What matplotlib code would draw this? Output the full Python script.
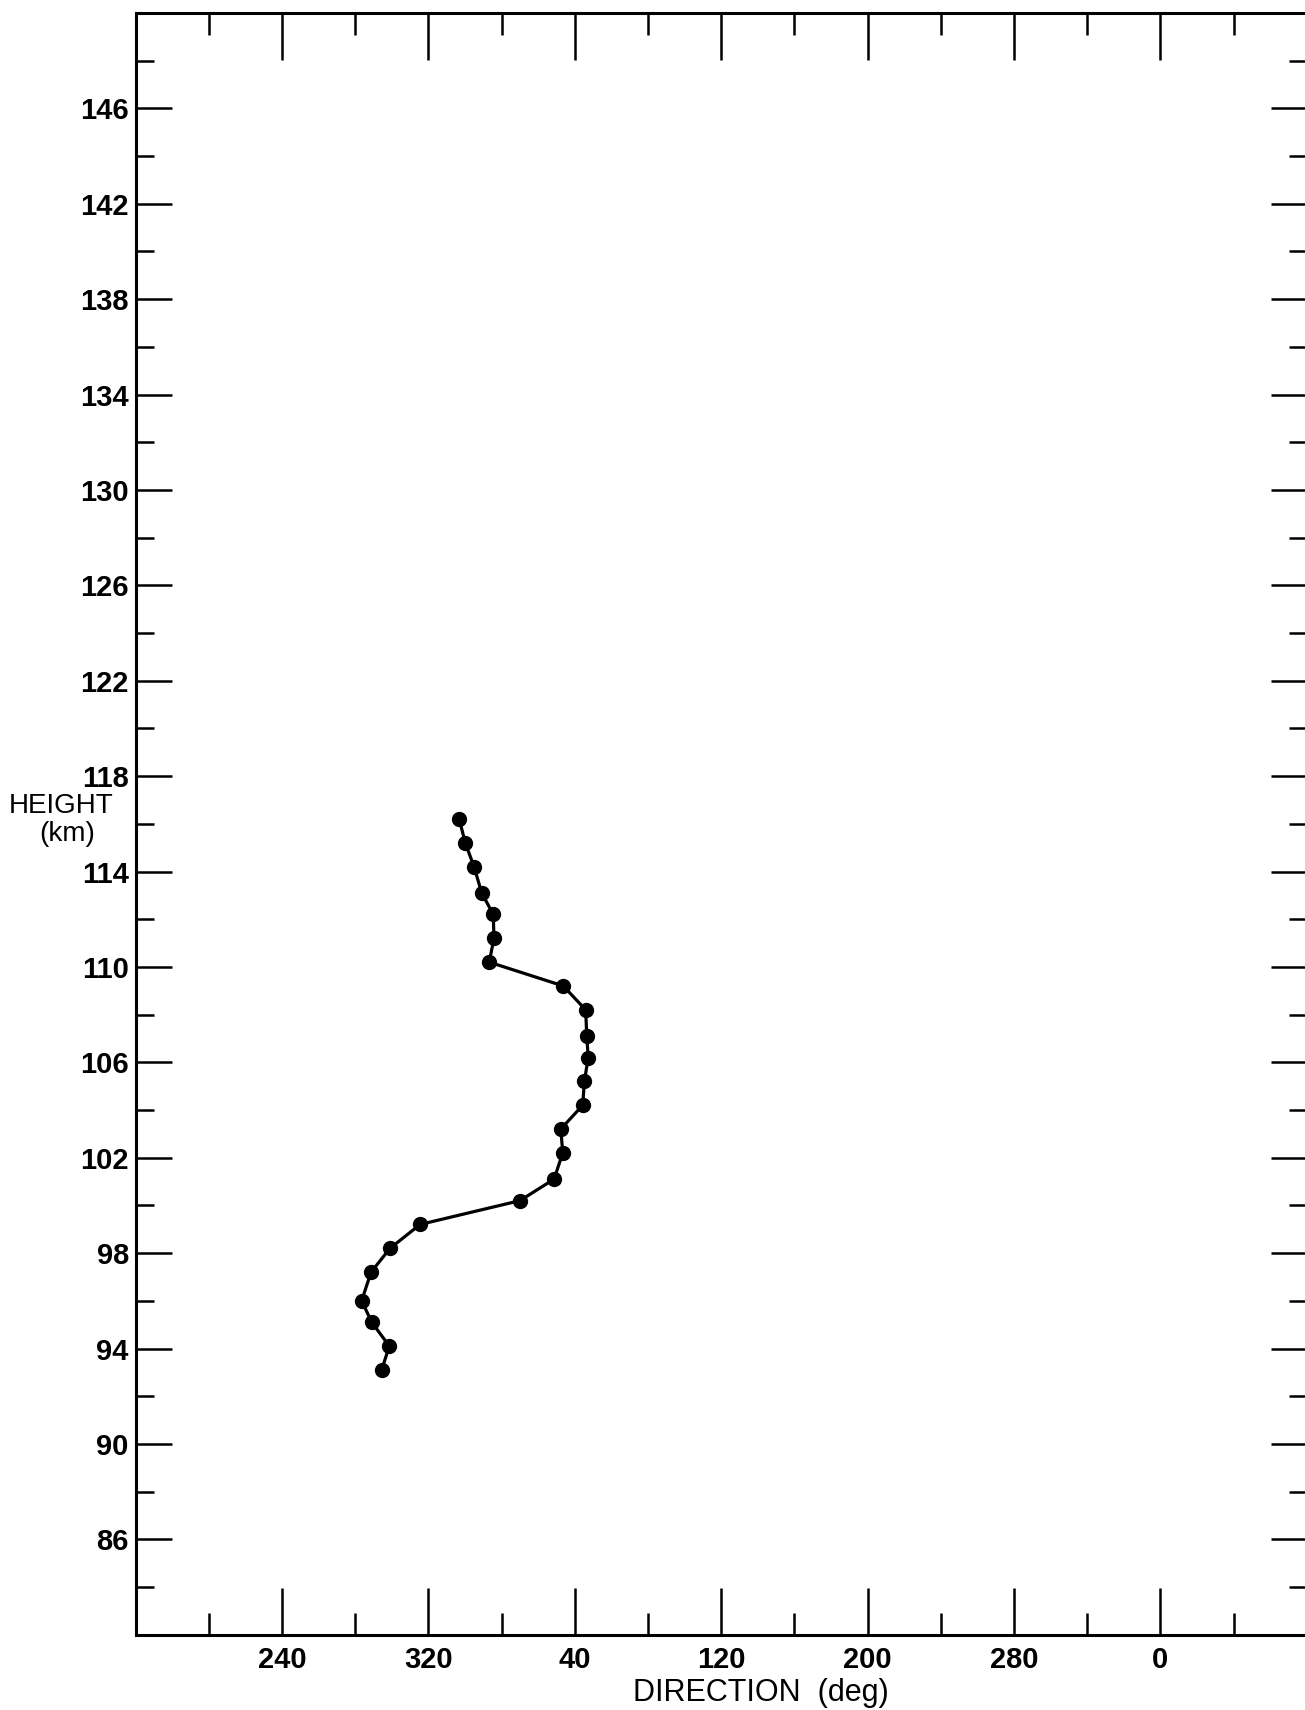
import numpy as np
import matplotlib
matplotlib.use("Agg")
import matplotlib.pyplot as plt

# ---- data ----
height_km = [116.2, 115.2, 114.2, 113.1, 112.2, 111.2, 110.2, 109.2, 108.2, 107.1,
             106.2, 105.2, 104.2, 103.2, 102.2, 101.1, 100.2, 99.2, 98.2, 97.2,
             96.0, 95.1, 94.1, 93.1]
direction_deg = [336.8, 340.1, 344.9, 349.1, 355.4, 355.8, 353.2, 33.7, 45.9, 46.5,
                 47.3, 45.2, 44.3, 32.3, 33.4, 28.6, 10.0, 315.4, 299.0, 288.6,
                 283.5, 289.0, 298.6, 294.4]

x_tick_pos = [240, 320, 400, 480, 560, 640, 720]          # unwrapped degrees
x_tick_labels = ["240", "320", "40", "120", "200", "280", "0"]
x_minor_pos = [200, 280, 360, 440, 520, 600, 680, 760]
y_tick_pos = list(range(86, 147, 4))
y_minor_pos = list(range(84, 149, 4))

# unwrap the direction onto the continuous axis (160 .. 800)
dir_plot = [d if d >= 160 else d + 360 for d in direction_deg]

W, H = 1305, 1710
fig = plt.figure(figsize=(W / 100, H / 100), dpi=100)
ax = fig.add_axes([135.7 / W, 1 - 1634.7 / H, (1306.8 - 135.7) / W, (1634.7 - 12.9) / H])

ax.plot(dir_plot, height_km, color="black", lw=2.3, marker="o", ms=10,
        mfc="black", mec="black", solid_joinstyle="round")

ax.set_xlim(160, 800)
ax.set_ylim(82, 150)

for s in ax.spines.values():
    s.set_linewidth(2.2)
    s.set_color("black")

tick_font = dict(family=["Liberation Sans", "DejaVu Sans"], weight="bold", size=21)

ax.set_xticks(x_tick_pos)
ax.set_xticklabels(x_tick_labels, fontdict=tick_font)
ax.set_xticks(x_minor_pos, minor=True)
ax.set_yticks(y_tick_pos)
ax.set_yticklabels([str(v) for v in y_tick_pos], fontdict=tick_font)
ax.set_yticks(y_minor_pos, minor=True)

ax.tick_params(axis="x", which="major", direction="in", length=34, width=1.8,
               top=True, bottom=True, pad=8)
ax.tick_params(axis="x", which="minor", direction="in", length=16, width=1.8,
               top=True, bottom=True)
ax.tick_params(axis="y", which="major", direction="in", length=26, width=1.8,
               left=True, right=True, pad=5)
ax.tick_params(axis="y", which="minor", direction="in", length=13, width=1.8,
               left=True, right=True)

label_font = ["Liberation Sans", "DejaVu Sans"]
fig.text(61.5 / W, 1 - 806 / H, "HEIGHT", family=label_font, size=20,
         ha="center", va="center")
fig.text(67 / W, 1 - 834 / H, "(km)", family=label_font, size=20,
         ha="center", va="center")
fig.text(761 / W, 1 - 1693 / H, "DIRECTION  (deg)", family=label_font, size=22,
         ha="center", va="center")

fig.savefig("out.png", dpi=100)
